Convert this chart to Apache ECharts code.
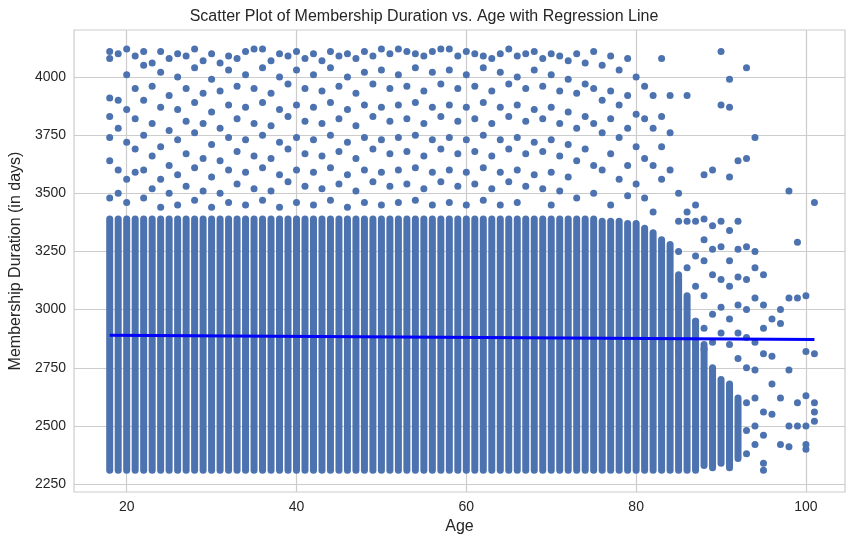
<!DOCTYPE html>
<html><head><meta charset="utf-8">
<script src="https://cdn.jsdelivr.net/npm/echarts@6/dist/echarts.min.js"></script>
<style>html,body{margin:0;background:#fff}#c{width:848px;height:543px}</style>
</head><body><div id="c"></div>
<script>
// dense columns: age, lowest and highest duration of the solid block
const bandAges = [18,19,20,21,22,23,24,25,26,27,28,29,30,31,32,33,34,35,36,37,38,39,40,41,42,43,44,45,46,47,48,49,50,51,52,53,54,55,56,57,58,59,60,61,62,63,64,65,66,67,68,69,70,71,72,73,74,75,76,77,78,79,80,81,82,83,84,85,86,87,88,89,90,91,92];
const bandLow = [2310,2310,2310,2310,2310,2310,2310,2310,2310,2310,2310,2310,2310,2310,2310,2310,2310,2310,2310,2310,2310,2310,2310,2310,2310,2310,2310,2310,2310,2310,2310,2310,2310,2310,2310,2310,2310,2310,2310,2310,2310,2310,2310,2310,2310,2310,2310,2310,2310,2310,2310,2310,2310,2310,2310,2310,2310,2310,2310,2310,2310,2310,2310,2310,2310,2310,2310,2310,2310,2310,2330,2320,2340,2320,2360];
const bandHigh = [3390,3390,3390,3390,3390,3390,3390,3390,3390,3390,3390,3390,3390,3390,3390,3390,3390,3390,3390,3390,3390,3390,3390,3390,3390,3390,3390,3390,3390,3390,3390,3390,3390,3390,3390,3390,3390,3390,3390,3390,3390,3390,3390,3390,3390,3390,3390,3390,3390,3390,3390,3390,3390,3390,3390,3390,3390,3390,3380,3380,3380,3370,3370,3350,3330,3300,3280,3150,3050,2950,2850,2750,2700,2680,2620];
// sparse points above the block (and in the tail)
const sparse = [
 [18,[4110,4080,3910,3830,3740,3640,3480]],[19,[4100,3900,3780,3600,3500]],[20,[4120,4010,3860,3720,3560,3460]],
 [21,[4090,3950,3820,3690,3590]],[22,[4110,4050,3900,3750,3600,3480]],[23,[4060,3960,3800,3660,3520]],
 [24,[4110,4020,3870,3700,3560,3440]],[25,[4080,3920,3770,3620,3500]],[26,[4100,4000,3860,3730,3580,3450]],
 [27,[4090,3950,3810,3670,3530]],[28,[4120,4040,3890,3760,3610,3470]],[29,[4070,3930,3800,3650,3510]],
 [30,[4100,3990,3850,3710,3570,3440]],[31,[4060,3940,3780,3640,3500]],[32,[4090,4030,3880,3740,3600,3460]],
 [33,[4080,3960,3820,3680,3540]],[34,[4110,4010,3870,3730,3590,3450]],[35,[4120,3950,3800,3660,3520]],
 [36,[4120,4040,3890,3750,3610,3470]],[37,[4070,3930,3790,3650,3510]],[38,[4100,4000,3860,3720,3580,3440]],
 [39,[4090,3970,3830,3690,3550]],[40,[4110,4030,3880,3740,3600,3460]],[41,[4080,3950,3810,3670,3530]],
 [42,[4100,4010,3870,3730,3590,3450]],[43,[4070,3940,3800,3660,3520]],[44,[4110,4040,3890,3750,3610,3470]],
 [45,[4090,3960,3820,3680,3540]],[46,[4100,4000,3860,3720,3580,3440]],[47,[4080,3930,3790,3650,3510]],
 [48,[4110,4020,3880,3740,3600,3460]],[49,[4090,3970,3830,3690,3550]],[50,[4120,4030,3870,3730,3590,3450]],
 [51,[4100,3950,3810,3670,3530]],[52,[4120,4010,3880,3740,3600,3460]],[53,[4110,3960,3820,3680,3540]],
 [54,[4100,4040,3890,3750,3610,3470]],[55,[4090,3940,3800,3660,3520]],[56,[4110,4020,3870,3730,3590,3450]],
 [57,[4120,3970,3830,3690,3550]],[58,[4120,4030,3880,3740,3600,3460]],[59,[4090,3950,3810,3670,3530]],
 [60,[4110,4010,3870,3730,3590,3450]],[61,[4100,3960,3820,3680,3540]],[62,[4090,4040,3890,3750,3610,3470]],
 [63,[4080,3940,3800,3660,3520]],[64,[4100,4020,3870,3730,3590,3450]],[65,[4120,3970,3830,3690,3550]],
 [66,[4090,4000,3880,3740,3600,3460]],[67,[4100,3950,3810,3670,3530]],[68,[4110,4030,3860,3720,3580]],
 [69,[4080,3960,3820,3680,3520]],[70,[4100,4010,3870,3730,3590,3450]],[71,[4090,3940,3800,3660,3510]],
 [72,[4070,3990,3850,3710,3570]],[73,[4100,3930,3780,3640,3480]],[74,[4060,3970,3830,3690]],
 [75,[4110,3950,3800,3620,3500]],[76,[4050,3900,3760,3600]],[77,[4090,3940,3820,3670,3450]],
 [78,[4030,3880,3740,3560]],[79,[4080,3920,3780,3620,3490]],[80,[4000,3840,3700,3540]],
 [81,[3960,3820,3650,3480]],[82,[3920,3780,3620,3420]],[83,[4080,3830,3700,3560]],[84,[3920,3760,3600]],
 [85,[3500,3380,3250,3120,3010,2900,2820]],[86,[3920,3420,3380,3180,3060]],[87,[3450,3380,3230,3100,2950,2850]],
 [88,[3580,3390,3300,3210,3060,2920,2830]],[89,[3600,3360,3260,3150,2980,2860]],[90,[4110,3880,3380,3270,3130,3010,2900]],
 [91,[3990,3870,3570,3340,3210,3100,2960,2850]],[92,[3640,3380,3260,3140,3020,2900,2790]],
 [93,[4040,3650,3270,3130,3000,2880,2750,2600,2480,2380]],[94,[3740,3250,3180,3050,2860,2740,2620,2500,2420]],
 [95,[3150,3020,2920,2810,2560,2460,2340,2310]],[96,[2960,2800,2680,2550]],[97,[3000,2940,2620,2420]],
 [98,[3510,3050,2740,2500,2410]],[99,[3290,3050,2600,2500]],[100,[3060,2820,2630,2500,2420,2400]],[101,[3460,2810,2600,2560,2520]]
];
const regX = [18, 101];
const regY = [2890, 2872];
const xTicks = [20,40,60,80,100];
const yTicks = [2250,2500,2750,3000,3250,3500,3750,4000];

const pts = [];
sparse.forEach(s => s[1].forEach(v => pts.push([s[0], v])));
const bands = bandAges.map((a, i) => [a, bandLow[i], bandHigh[i]]);
const dot = '#4c72b0';

const chart = echarts.init(document.getElementById('c'));
chart.setOption({
  animation: false,
  textStyle: { fontFamily: 'Liberation Sans', color: '#262626' },
  title: { text: 'Scatter Plot of Membership Duration vs. Age with Regression Line', left: 'center', top: 4,
    textStyle: { fontSize: 16, fontWeight: 'normal', color: '#262626', fontFamily: 'Liberation Sans' } },
  grid: { left: 72, right: 3, top: 30, bottom: 51, show: true, borderColor: '#cccccc', borderWidth: 1.2 },
  xAxis: {
    type: 'value', min: 13.8, max: 104.6, name: 'Age', nameLocation: 'middle', nameGap: 27,
    nameTextStyle: { fontSize: 16, color: '#262626' },
    axisLabel: { fontSize: 14, color: '#262626', customValues: xTicks, formatter: v => String(v) },
    axisTick: { show: false, customValues: xTicks },
    axisLine: { show: false },
    splitLine: { show: true, lineStyle: { color: '#cccccc', width: 1.2 } }
  },
  yAxis: {
    type: 'value', min: 2216, max: 4202, name: 'Membership Duration (in days)', nameLocation: 'middle', nameGap: 46,
    nameTextStyle: { fontSize: 16, color: '#262626' },
    axisLabel: { fontSize: 14, color: '#262626', customValues: yTicks, formatter: v => String(v) },
    axisTick: { show: false, customValues: yTicks },
    axisLine: { show: false },
    splitLine: { show: true, lineStyle: { color: '#cccccc', width: 1.2 } }
  },
  series: [
    { type: 'custom', data: bands, z: 2,
      renderItem: (params, api) => {
        const top = api.coord([api.value(0), api.value(2)]);
        const bot = api.coord([api.value(0), api.value(1)]);
        return { type: 'rect', shape: { x: top[0] - 3.5, y: top[1] - 3.5, width: 7, height: bot[1] - top[1] + 7, r: 3.5 },
          style: { fill: dot } };
      } },
    { type: 'scatter', data: pts, symbolSize: 7, itemStyle: { color: dot, opacity: 1 }, z: 2 },
    { type: 'line', data: regX.map((x, i) => [x, regY[i]]), showSymbol: false, z: 3,
      lineStyle: { color: '#0000ff', width: 3 } }
  ]
});
</script></body></html>
